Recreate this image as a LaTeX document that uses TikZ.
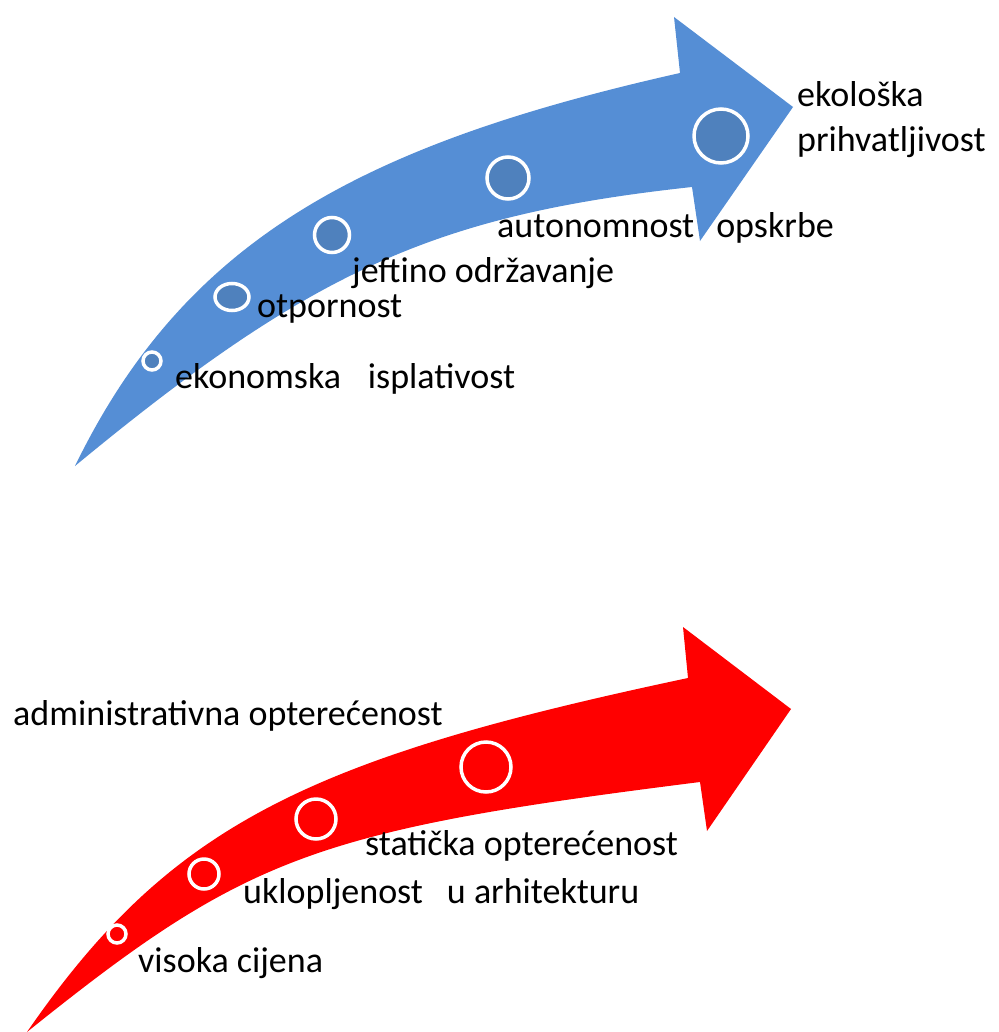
\documentclass[tikz,border=0pt]{standalone}
\usepackage{fontspec}
\setmainfont{Carlito}
\usetikzlibrary{shapes.geometric}
\definecolor{arrowblue}{RGB}{85,142,213}
\definecolor{ringblue}{RGB}{79,129,189}
\definecolor{arrowred}{RGB}{255,0,0}

\begin{document}
\begin{tikzpicture}[x=1pt, y=-1pt,
  lbl/.style={anchor=base west, inner sep=0pt, font=\fontsize{36}{45}\selectfont},
  ring/.style={circle, draw=white, line width=3.5pt, inner sep=0pt},
  bring/.style={ring, fill=ringblue},
  rring/.style={ring, fill=arrowred},
]
\useasboundingbox (0,0) rectangle (998,1032);

% Upper arrow (blue)
\fill[arrowblue] (75,466) .. controls (185,240) and (360,145) .. (680,73)
  -- (674,17) -- (793,107) -- (700,241) -- (692,187)
  .. controls (434,215) and (311,271) .. (75,466) -- cycle;

\node[bring, minimum size=18] (b1) at (152,361) {};
\node[bring, ellipse, minimum width=34, minimum height=27] (b2) at (232,297) {};
\node[bring, minimum size=35] (b3) at (332,235) {};
\node[bring, minimum size=42] (b4) at (508,178) {};
\node[bring, minimum size=54] (b5) at (721,136) {};

\node[lbl] (isplat) at (175,388) {ekonomska\hspace{27pt}isplativost};
\node[lbl] (otpor) at (257,317) {otpornost};
\node[lbl] (odrz) at (352,282) {jeftino održavanje};
\node[lbl] (auton) at (497,237) {autonomnost\hspace{22pt}opskrbe};
% two lines: base sits on the last one
\node[lbl, align=left] (ekol) at (797,152) {ekološka\\prihvatljivost};

% Lower arrow (red)
\fill[arrowred] (27,1032) .. controls (170,825) and (306,759) .. (688,678)
  -- (683,627) -- (791,709) -- (707,831) -- (700,782)
  .. controls (314,830.6) and (246.6,855.6) .. (27,1032) -- cycle;

\node[rring, minimum size=18] (r1) at (117,934) {};
\node[rring, minimum size=30] (r2) at (204,874) {};
\node[rring, minimum size=40] (r3) at (316,819) {};
\node[rring, minimum size=50] (r4) at (486,767) {};

\node[lbl] (admin) at (13,725) {administrativna opterećenost};
\node[lbl] (stat) at (365,855) {statička opterećenost};
\node[lbl] (uklop) at (243,903) {uklopljenost\hspace{24pt}u arhitekturu};
\node[lbl] (cijena) at (138,972) {visoka cijena};

\end{tikzpicture}
\end{document}
